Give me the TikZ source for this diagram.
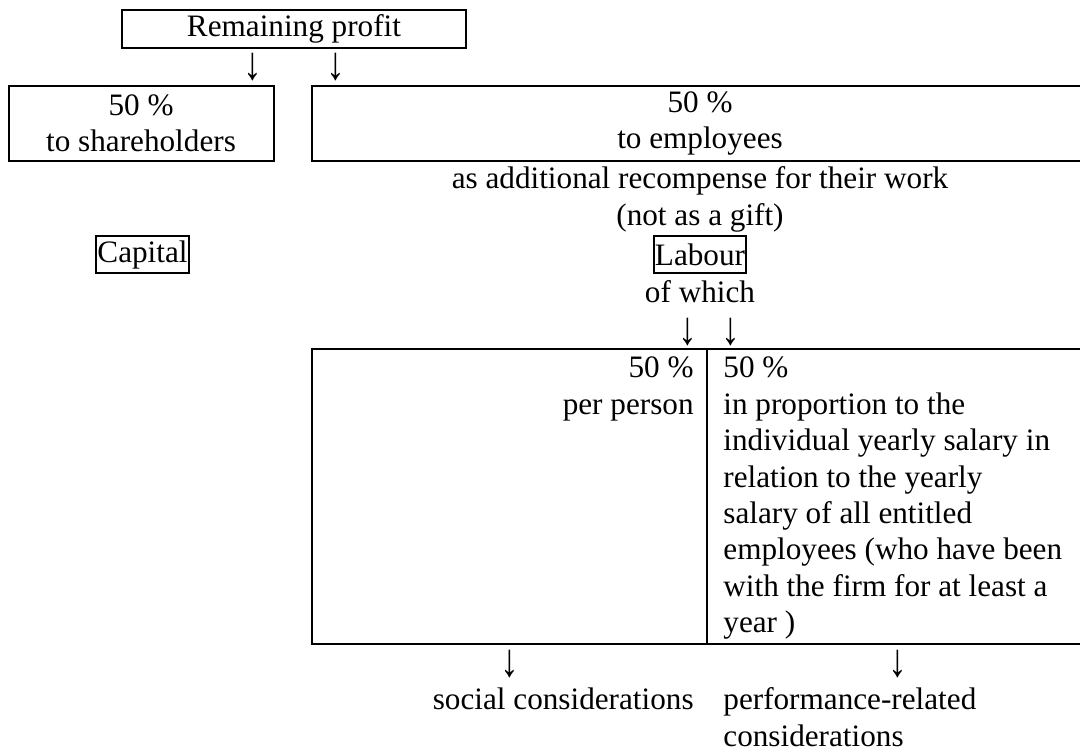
\documentclass[tikz,border=0pt]{standalone}
\usepackage{fontspec}
\setmainfont{Liberation Serif}
\usepackage{tikz}
\usetikzlibrary{positioning}

\newcommand{\dnarrow}{\scalebox{1.2}[1.5]{↓}}

\begin{document}
\begin{tikzpicture}[x=0.5pt,y=-0.5pt,
    font=\fontsize{15.6}{18.2}\selectfont,
    box/.style={draw,line width=1pt,inner sep=0pt,align=center},
    tag/.style={draw,line width=1pt,inner xsep=0.7pt,inner ysep=0pt,minimum height=18.5pt},
    txt/.style={inner sep=0pt},
    down/.style={inner sep=0pt}]
    \useasboundingbox (0,0) rectangle (1080,751);
    \clip (0,0) rectangle (1080,751);

    % Top boxes
    \node[box,minimum width=172pt,minimum height=19pt] (profit) at (294,29) {Remaining profit};
    \node[down] (d1) at (253,67) {\dnarrow};
    \node[down] (d2) at (336,67) {\dnarrow};
    \node[box,minimum width=132.5pt,minimum height=37.5pt] (share) at (141,123.5) {50 \%\\to shareholders};
    \node[box,minimum width=388.3pt,minimum height=37.5pt] (employ) at (700,123.5) {50 \%\\to employees};

    % Middle
    \node[txt,anchor=base] (recomp) at (700,188) {as additional recompense for their work};
    \node[txt,anchor=base] (gift) at (700,225) {(not as a gift)};
    \node[tag] (capital) at (142.5,254.5) {Capital};
    \node[tag] (labour) at (700,254.5) {Labour};
    \node[txt,anchor=base] (which) at (700,302) {of which};
    \node[down] (d3) at (688,332.5) {\dnarrow};
    \node[down] (d4) at (731,332.5) {\dnarrow};

    % Split box
    \coordinate (top) at (707,349);
    \coordinate (bot) at (707,644);
    \draw[line width=1pt] (312,349) rectangle (1100,644);
    \draw[line width=1pt] (top) -- (bot);
    \node[txt,anchor=north east,align=right] (perhead) at (694,356.8) {50 \%\\per person};
    \node[txt,anchor=north west,align=left] (salary) at (723,356.8) {50 \%\\in proportion to the\\individual yearly salary in\\relation to the yearly\\salary of all entitled\\employees (who have been\\with the firm for at least a\\year )};

    % Bottom
    \node[down] (d5) at (510,664) {\dnarrow};
    \node[down] (d6) at (898,664) {\dnarrow};
    \node[txt,anchor=base east] (social) at (694,709) {social considerations};
    \node[txt,anchor=north west,align=left] (perform) at (723,687.6) {performance-related\\considerations};
\end{tikzpicture}
\end{document}
